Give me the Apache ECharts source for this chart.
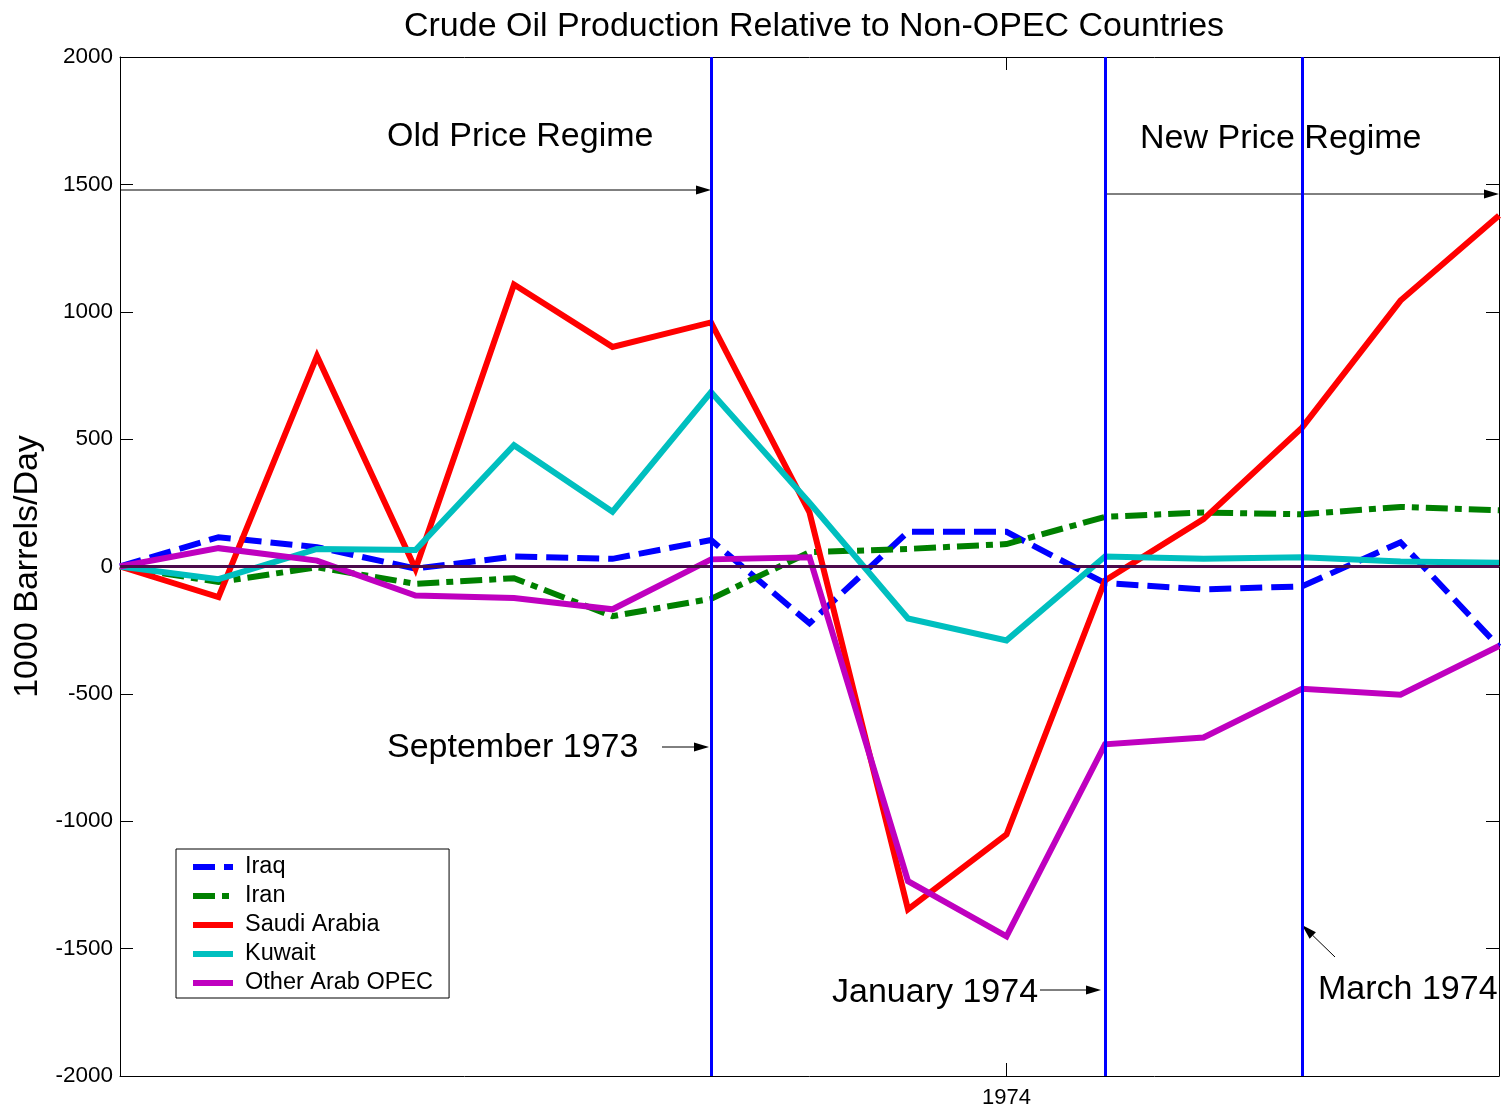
<!DOCTYPE html>
<html>
<head>
<meta charset="utf-8">
<script src="https://cdn.jsdelivr.net/npm/echarts@6/dist/echarts.min.js"></script>
<style>
html, body { margin: 0; padding: 0; background: #fff; }
#chart { width: 1507px; height: 1110px; }
</style>
</head>
<body>
<div id="chart"></div>
<script>
// months, Mar 1973 .. May 1974
var months = ['Mar 1973', 'Apr 1973', 'May 1973', 'Jun 1973', 'Jul 1973', 'Aug 1973', 'Sep 1973',
    'Oct 1973', 'Nov 1973', 'Dec 1973', 'Jan 1974', 'Feb 1974', 'Mar 1974', 'Apr 1974', 'May 1974'];
var xTickLabels = ['', '', '', '', '', '', '', '', '', '1974', '', '', '', '', ''];
var yTicks = [-2000, -1500, -1000, -500, 0, 500, 1000, 1500, 2000];

var iraq = [0, 115, 76, -8, 39, 30, 104, -223, 136, 136, -65, -90, -78, 95, -315];
var iran = [0, -61, -3, -68, -46, -195, -127, 56, 69, 88, 195, 212, 205, 234, 221];
var saudi = [0, -120, 826, -10, 1107, 862, 958, 212, -1346, -1052, -55, 186, 545, 1044, 1378];
var kuwait = [0, -50, 69, 65, 476, 215, 685, 250, -204, -290, 39, 30, 36, 20, 15];
var otherArab = [0, 72, 23, -114, -124, -168, 28, 36, -1235, -1452, -698, -671, -480, -503, -312];

var eventMonths = ['Sep 1973', 'Jan 1974', 'Mar 1974'];

var FONT = 'Arial, "Liberation Sans", Helvetica, sans-serif';

function lineSeries(name, data, color, type) {
    return {
        name: name,
        type: 'line',
        data: data,
        symbol: 'none',
        z: 3,
        lineStyle: { color: color, width: 6, type: type, cap: 'butt', join: 'miter' },
        itemStyle: { color: color }
    };
}

// arrow drawn as a line plus a filled head
function arrow(x1, y1, x2, y2) {
    var a = Math.atan2(y2 - y1, x2 - x1);
    var len = 15, half = 4.5;
    var bx = x2 - len * Math.cos(a), by = y2 - len * Math.sin(a);
    return {
        type: 'group',
        children: [
            { type: 'line', shape: { x1: x1, y1: y1, x2: bx, y2: by }, style: { stroke: '#000', lineWidth: 1 } },
            { type: 'polygon', shape: { points: [[x2, y2],
                [bx + half * Math.sin(a), by - half * Math.cos(a)],
                [bx - half * Math.sin(a), by + half * Math.cos(a)]] },
              style: { fill: '#000' } }
        ]
    };
}

function label(text, x, y) {
    return { type: 'text', x: x, y: y,
        style: { text: text, fill: '#000', font: '34px ' + FONT, verticalAlign: 'middle', align: 'left' } };
}

var chart = echarts.init(document.getElementById('chart'));
var option = {
    animation: false,
    backgroundColor: '#fff',
    title: {
        text: 'Crude Oil Production Relative to Non-OPEC Countries',
        left: 809, top: 5, textAlign: 'center',
        textStyle: { fontFamily: FONT, fontSize: 34, fontWeight: 'normal', color: '#000' }
    },
    grid: { left: 120, right: 8, top: 57, bottom: 34, containLabel: false, outerBoundsMode: 'none' },
    legend: {
        data: ['Iraq', 'Iran', 'Saudi Arabia', 'Kuwait', 'Other Arab OPEC'],
        orient: 'vertical',
        left: 176, top: 849,
        padding: [6, 16, 3, 14],
        borderColor: '#000', borderWidth: 1,
        backgroundColor: '#fff',
        itemWidth: 40, itemHeight: 6, itemGap: 5,
        itemStyle: { opacity: 0 },
        lineStyle: { width: 6 },
        textStyle: { fontFamily: FONT, fontSize: 23.5, lineHeight: 24, color: '#000', padding: [0, 0, 0, 7] }
    },
    xAxis: [{
        type: 'category', data: months, boundaryGap: false,
        axisLine: { onZero: false, lineStyle: { color: '#000', width: 1 } },
        axisTick: { inside: true, length: 13, lineStyle: { color: '#000' },
            interval: function (i) { return xTickLabels[i] !== ''; } },
        axisLabel: { margin: 11, color: '#000', fontFamily: FONT, fontSize: 22,
            interval: function (i) { return xTickLabels[i] !== ''; },
            formatter: function (v, i) { return xTickLabels[i]; } },
        splitLine: { show: false }
    }, {
        type: 'category', data: months, boundaryGap: false, position: 'top',
        axisLine: { onZero: false, lineStyle: { color: '#000', width: 1 } },
        axisTick: { inside: true, length: 13, lineStyle: { color: '#000' },
            interval: function (i) { return xTickLabels[i] !== ''; } },
        axisLabel: { show: false }
    }],
    yAxis: [{
        type: 'value', min: yTicks[0], max: yTicks[yTicks.length - 1], interval: 500,
        name: '1000 Barrels/Day', nameLocation: 'middle', nameGap: 64,
        nameTextStyle: { fontFamily: FONT, fontSize: 34, color: '#000' },
        axisLine: { show: true, onZero: false, lineStyle: { color: '#000', width: 1 } },
        axisTick: { show: true, inside: true, length: 13, lineStyle: { color: '#000' } },
        axisLabel: { margin: 7, color: '#000', fontFamily: FONT, fontSize: 22.5,
            formatter: function (v) { return String(v); } },
        splitLine: { show: false }
    }, {
        type: 'value', min: yTicks[0], max: yTicks[yTicks.length - 1], interval: 500, position: 'right',
        axisLine: { show: true, onZero: false, lineStyle: { color: '#000', width: 1 } },
        axisTick: { show: true, inside: true, length: 13, lineStyle: { color: '#000' } },
        axisLabel: { show: false },
        splitLine: { show: false }
    }],
    series: [
        lineSeries('Iraq', iraq, '#0000FF', [22, 9]),
        lineSeries('Iran', iran, '#008000', [22, 7, 7, 7]),
        lineSeries('Saudi Arabia', saudi, '#FF0000', 'solid'),
        lineSeries('Kuwait', kuwait, '#00BFBF', 'solid'),
        lineSeries('Other Arab OPEC', otherArab, '#BF00BF', 'solid'),
        {
            // zero line and event markers
            name: 'markers', type: 'line', data: [], z: 4, silent: true,
            markLine: {
                symbol: 'none', silent: true, animation: false,
                label: { show: false },
                data: [
                    { yAxis: 0, lineStyle: { color: '#4B0A4B', width: 3, type: 'solid' } }
                ].concat(eventMonths.map(function (m) {
                    return { xAxis: m, lineStyle: { color: '#0000FF', width: 3, type: 'solid' } };
                }))
            }
        }
    ],
    graphic: [
        label('Old Price Regime', 387, 137),
        arrow(120, 190, 711, 190),
        label('New Price Regime', 1140, 139),
        arrow(1105, 194, 1499, 194),
        label('September 1973', 387, 748),
        arrow(662, 747, 709, 747),
        label('January 1974', 832, 993),
        arrow(1040, 990, 1101, 990),
        label('March 1974', 1318, 990),
        arrow(1335, 957, 1302, 925)
    ]
};
chart.setOption(option);
</script>
</body>
</html>
